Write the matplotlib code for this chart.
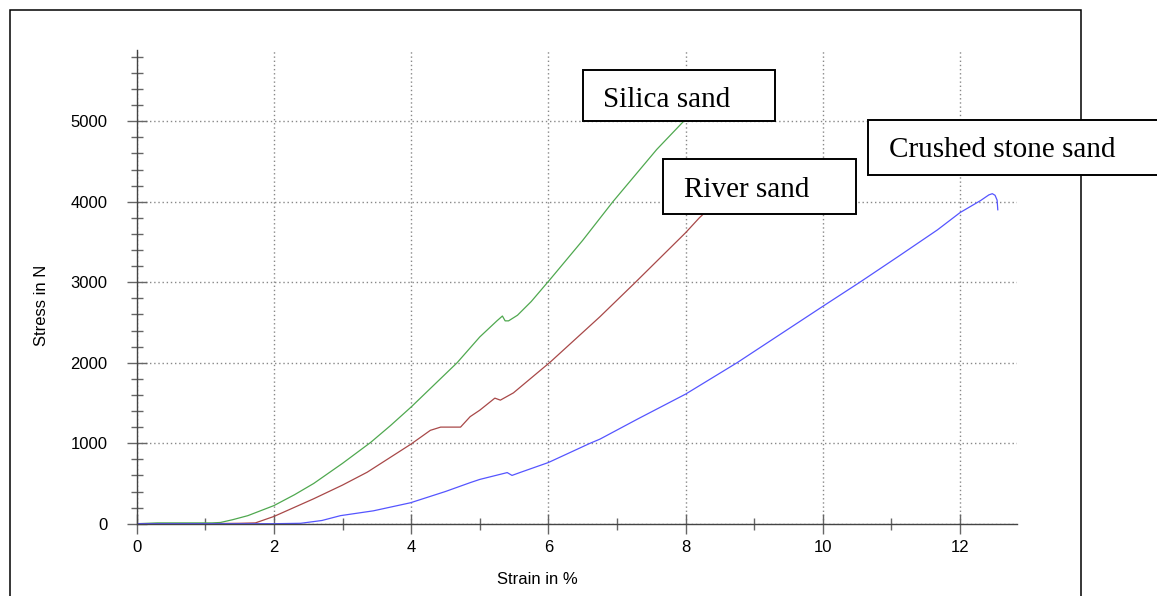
import numpy as np
import matplotlib
matplotlib.use("Agg")
import matplotlib.pyplot as plt
from matplotlib.patches import Rectangle
from matplotlib.ticker import MultipleLocator

# Strain (%) / stress (N)
silica_x = [0, 0.3, 0.8, 1.1, 1.22, 1.4, 1.62, 2.0, 2.3, 2.58, 3.0, 3.41, 3.7, 4.0,
            4.67, 5.0, 5.25, 5.33, 5.37, 5.42, 5.55, 5.75, 6.03, 6.5, 6.94, 7.58, 8.0, 8.3]
silica_y = [0, 10, 10, 10, 15, 50, 100, 225, 360, 500, 750, 1010, 1220, 1450,
            2000, 2320, 2520, 2580, 2520, 2520, 2590, 2760, 3040, 3520, 4000, 4650, 5025, 5350]

river_x = [0, 1.0, 1.5, 1.73, 2.0, 2.58, 3.0, 3.36, 4.0, 4.28, 4.43, 4.72, 4.86, 5.0,
           5.22, 5.3, 5.49, 6.03, 6.75, 7.27, 8.0, 8.2, 8.4]
river_y = [0, 0, 5, 10, 90, 310, 480, 640, 990, 1160, 1200, 1200, 1330, 1410,
           1560, 1535, 1625, 2010, 2570, 3000, 3615, 3800, 3960]

crushed_x = [0, 1.0, 2.0, 2.39, 2.7, 2.97, 3.45, 3.99, 4.5, 4.86, 5.0, 5.40, 5.47, 5.6,
             6.0, 6.61, 6.75, 7.3, 8.0, 8.75, 9.99, 10.54, 11.1, 11.67, 12.0, 12.3,
             12.42, 12.47, 12.51, 12.54, 12.55]
crushed_y = [0, 0, 0, 5, 40, 100, 160, 260, 400, 510, 550, 635, 600, 640,
             760, 1000, 1050, 1300, 1610, 2000, 2695, 3000, 3320, 3650, 3865, 4015,
             4085, 4100, 4080, 4020, 3900]

x_ticks = [0, 2, 4, 6, 8, 10, 12]
y_ticks = [0, 1000, 2000, 3000, 4000, 5000]

W, H = 1157, 596
fig = plt.figure(figsize=(W / 100, H / 100), dpi=100)
ax = fig.add_axes([136.7 / W, (H - 523.7) / H, 880.3 / W, 473.7 / H])

ax.plot(silica_x, silica_y, color="#4fa84f", lw=0.9)
ax.plot(river_x, river_y, color="#a84848", lw=0.9)
ax.plot(crushed_x, crushed_y, color="#5555ff", lw=0.9)

ax.set_xlim(0, 12.83)
ax.set_ylim(0, 5885)
ax.set_xticks(x_ticks)
ax.set_yticks(y_ticks)
ax.xaxis.set_minor_locator(MultipleLocator(1))
ax.yaxis.set_minor_locator(MultipleLocator(200))

for s in ["top", "right"]:
    ax.spines[s].set_visible(False)
for s in ["left", "bottom"]:
    ax.spines[s].set_color("#444444")
    ax.spines[s].set_linewidth(1.0)

ax.tick_params(which="major", direction="inout", length=14, width=1, color="#666666",
               labelsize=12)
ax.tick_params(which="minor", direction="inout", length=9, width=1, color="#666666")
ax.tick_params(axis="y", which="major", pad=14)
ax.tick_params(axis="x", which="major", pad=5)
for lab in ax.get_xticklabels() + ax.get_yticklabels():
    lab.set_family("Liberation Sans")

ax.grid(which="major", linestyle=(0, (1, 2)), color="#888888", linewidth=1)

ax.set_xlabel("Strain in %", family="Liberation Sans", fontsize=12, va="center")
ax.set_ylabel("Stress in N", family="Liberation Sans", fontsize=12, va="center")
ax.xaxis.set_label_coords((537 - 136.7) / 880.3, (523.7 - 579) / 473.7)
ax.yaxis.set_label_coords((42 - 136.7) / 880.3, (523.7 - 305) / 473.7)


def px_rect(x0, y0, x1, y1, **kw):
    # rectangle given in image pixels (top-left origin)
    return Rectangle((x0 / W, (H - y1) / H), (x1 - x0) / W, (y1 - y0) / H,
                     transform=fig.transFigure, **kw)


# outer frame of the screenshot
fig.patches.append(px_rect(10, 10, 1081, 620, fill=False, ec="black", lw=1.1, zorder=1))

# label boxes
boxes = [("Silica sand", (583, 70, 775, 121), (603, 106.7)),
         ("River sand", (663, 159, 856, 214), (684, 197.3)),
         ("Crushed stone sand", (868, 120, 1170, 175), (889, 157))]
for text, (x0, y0, x1, y1), (tx, ty) in boxes:
    fig.patches.append(px_rect(x0, y0, x1, y1, fc="white", ec="black", lw=1.4, zorder=2))
    fig.text(tx / W, (H - ty) / H, text, family="Liberation Serif", fontsize=21,
             va="baseline", ha="left", zorder=3)

fig.savefig("out.png", dpi=100)
